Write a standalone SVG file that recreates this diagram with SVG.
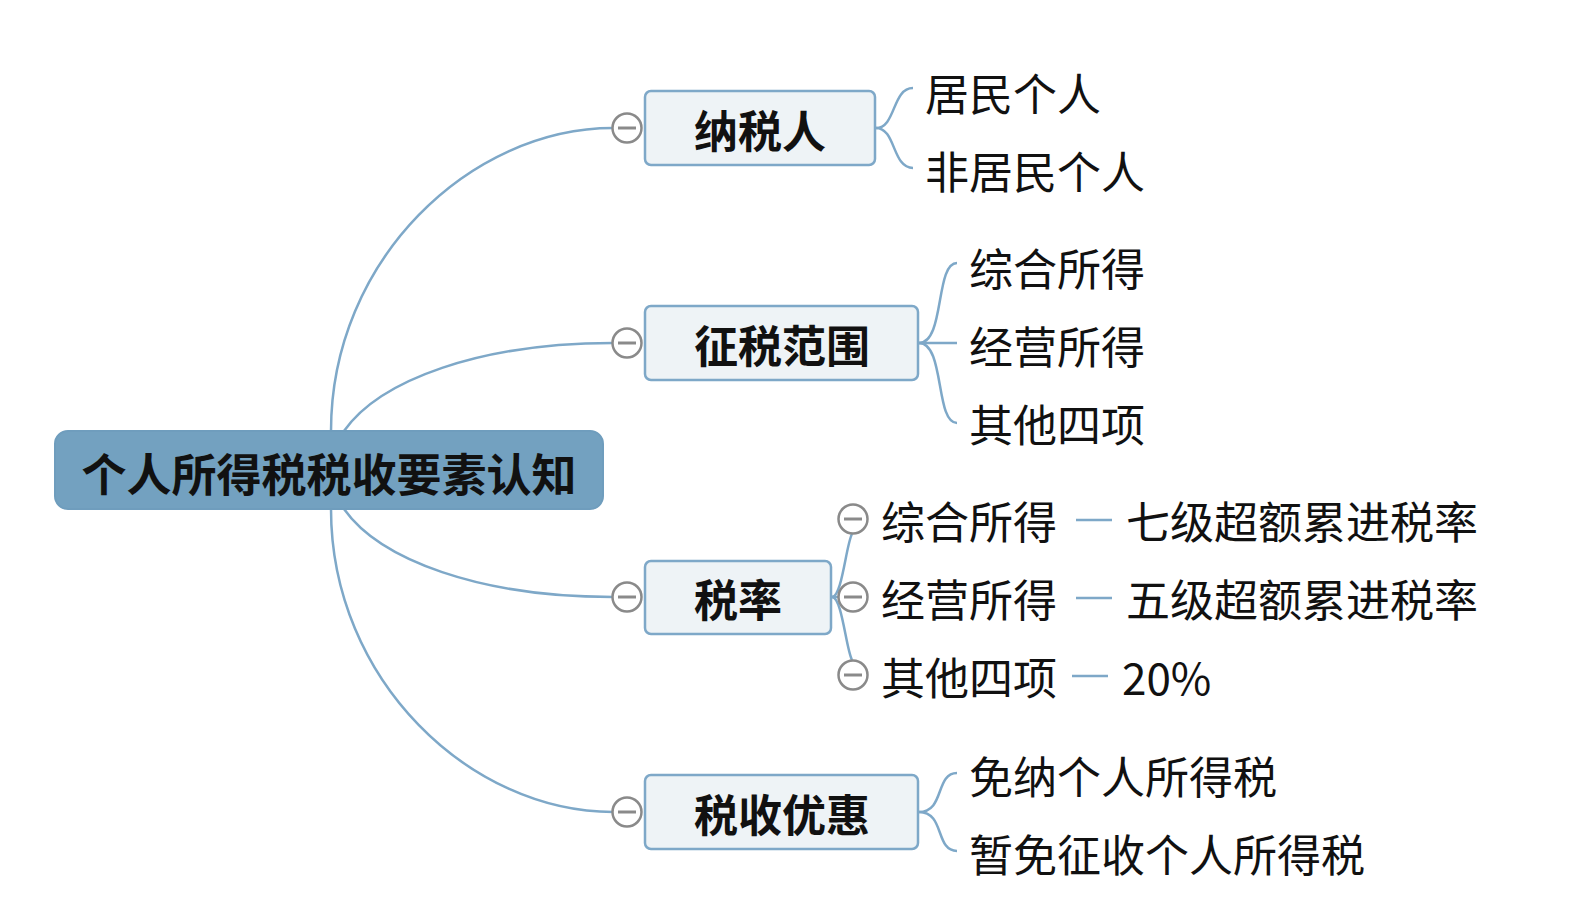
<svg xmlns="http://www.w3.org/2000/svg" width="1575" height="921" viewBox="0 0 1575 921">
<defs>
<style>
.bg{fill:#ffffff}
.root{fill:#73a1c0;stroke:#6f9dbd;stroke-width:2}
.node{fill:#eef3f6;stroke:#7ea8c8;stroke-width:2.5}
.conn{fill:none;stroke:#7ea8c8;stroke-width:2.5}
.t{font-family:"Microsoft YaHei","Noto Sans CJK SC",sans-serif;dominant-baseline:central;fill:#111}
.tb{font-size:44px;font-weight:bold;text-anchor:middle}
.tl{font-size:44px}
</style>
<g id="minus">
<circle cx="0" cy="0" r="14.5" fill="#ffffff" stroke="#8a8a8a" stroke-width="2.5"/>
<line x1="-9" y1="0" x2="9" y2="0" stroke="#8a8a8a" stroke-width="3"/>
</g>
</defs>
<rect class="bg" x="0" y="0" width="1575" height="921"/>
<g id="connectors">
<path class="conn" d="M331,431 C331,260 470,128 613,128"/>
<path class="conn" d="M344,431 C380,380 480,343 613,343"/>
<path class="conn" d="M344,509 C380,560 480,597 613,597"/>
<path class="conn" d="M331,509 C331,680 470,812 613,812"/>
<path class="conn" d="M876,128 C896,128 892,88 913,88"/>
<path class="conn" d="M876,128 C896,128 892,168 913,168"/>
<path class="conn" d="M919,343 C945,343 935,263 957,263"/>
<path class="conn" d="M919,343 L957,343"/>
<path class="conn" d="M919,343 C945,343 935,423 957,423"/>
<path class="conn" d="M832,597 C842,597 846,545 852,534"/>
<path class="conn" d="M832,597 L839,597"/>
<path class="conn" d="M832,597 C842,597 846,649 852,660"/>
<path class="conn" d="M919,812 C945,812 935,773 957,773"/>
<path class="conn" d="M919,812 C945,812 935,851 957,851"/>
<line class="conn" x1="1076" y1="520" x2="1112" y2="520"/>
<line class="conn" x1="1076" y1="598" x2="1112" y2="598"/>
<line class="conn" x1="1072" y1="676" x2="1108" y2="676"/>
</g>
<g id="root">
<rect class="root" x="55" y="431" width="548" height="78" rx="13"/>
<text class="t tb" x="329" y="472" style="font-size:45px">个人所得税税收要素认知</text>
</g>
<g id="n1">
<rect class="node" x="645" y="91" width="230" height="74" rx="6"/>
<text class="t tb" x="760" y="129">纳税人</text>
<use href="#minus" x="627" y="128"/>
</g>
<g id="n1a"><text class="t tl" x="925" y="92">居民个人</text></g>
<g id="n1b"><text class="t tl" x="925" y="170">非居民个人</text></g>
<g id="n2">
<rect class="node" x="645" y="306" width="273" height="74" rx="6"/>
<text class="t tb" x="782" y="344">征税范围</text>
<use href="#minus" x="627" y="343"/>
</g>
<g id="n2a"><text class="t tl" x="969" y="267">综合所得</text></g>
<g id="n2b"><text class="t tl" x="969" y="345">经营所得</text></g>
<g id="n2c"><text class="t tl" x="969" y="423">其他四项</text></g>
<g id="n3">
<rect class="node" x="645" y="561" width="186" height="73" rx="6"/>
<text class="t tb" x="738" y="598">税率</text>
<use href="#minus" x="627" y="597"/>
</g>
<g id="n3a">
<use href="#minus" x="853" y="519"/>
<text class="t tl" x="881" y="520">综合所得</text>
</g>
<g id="n3a1"><text class="t tl" x="1126" y="520">七级超额累进税率</text></g>
<g id="n3b">
<use href="#minus" x="853" y="597"/>
<text class="t tl" x="881" y="598">经营所得</text>
</g>
<g id="n3b1"><text class="t tl" x="1126" y="598">五级超额累进税率</text></g>
<g id="n3c">
<use href="#minus" x="853" y="675"/>
<text class="t tl" x="881" y="676">其他四项</text>
</g>
<g id="n3c1"><text class="t tl" x="1122" y="676">20%</text></g>
<g id="n4">
<rect class="node" x="645" y="775" width="273" height="74" rx="6"/>
<text class="t tb" x="782" y="813">税收优惠</text>
<use href="#minus" x="627" y="812"/>
</g>
<g id="n4a"><text class="t tl" x="969" y="775">免纳个人所得税</text></g>
<g id="n4b"><text class="t tl" x="969" y="853">暂免征收个人所得税</text></g>
</svg>
